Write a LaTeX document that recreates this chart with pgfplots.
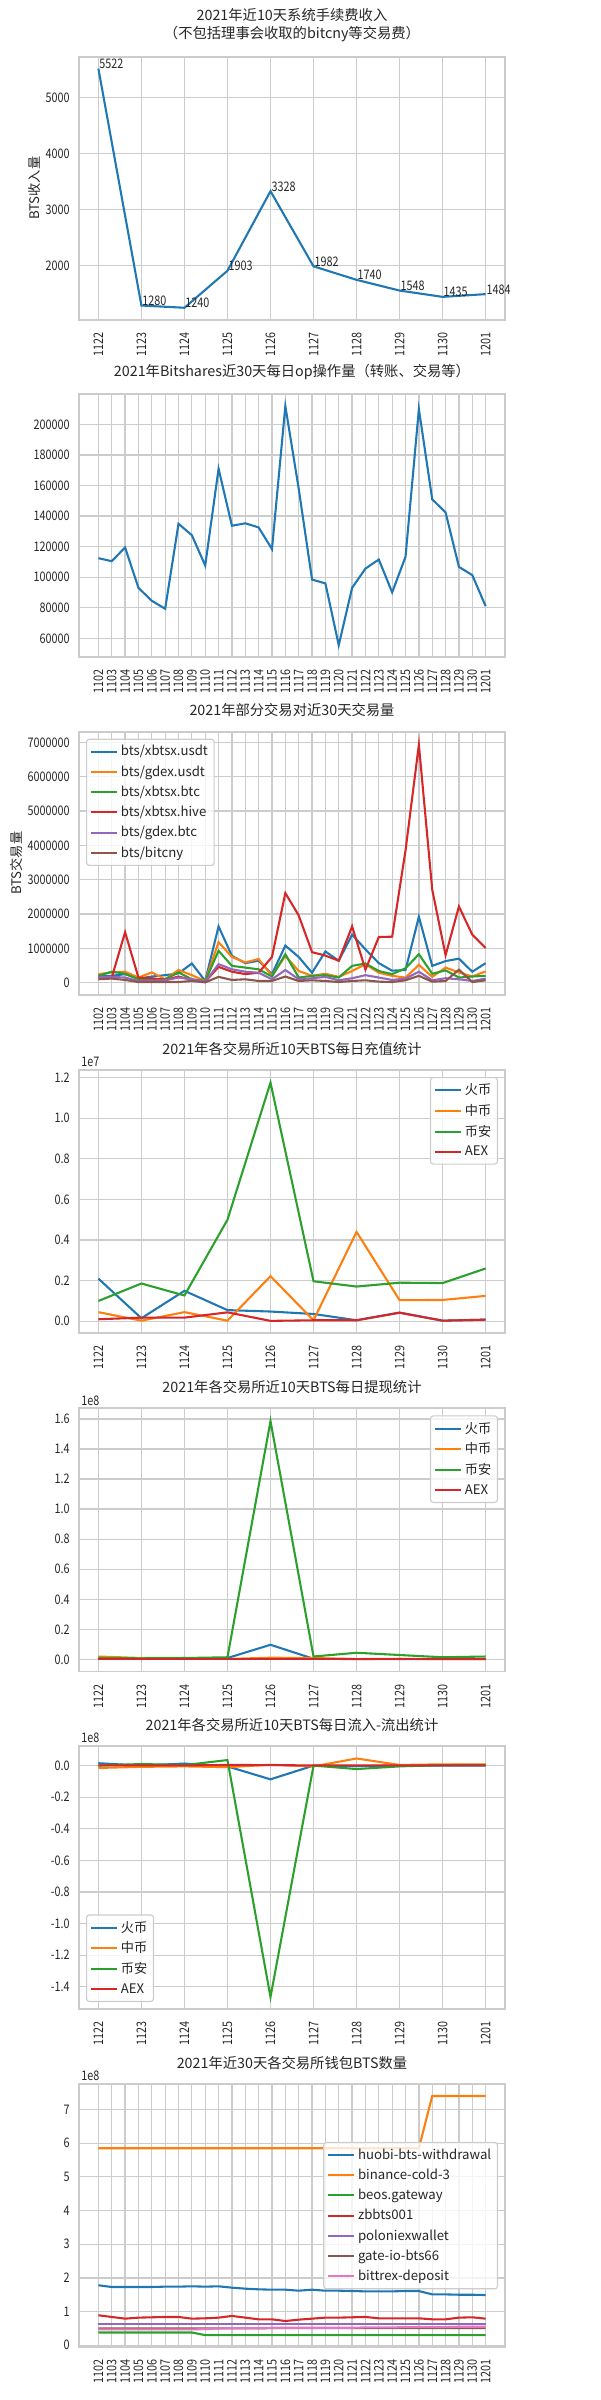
\documentclass[border=0pt]{standalone}
\usepackage{fontspec}
\setmainfont{Noto Sans CJK SC}
\newfontfamily\tickfont[FakeStretch=0.82]{Noto Sans CJK SC}
\usepackage{pgfplots}
\usepackage{pgfplotstable}
\pgfplotsset{compat=1.18}

% tab10 colours, seaborn whitegrid greys
\definecolor{c0}{HTML}{1F77B4}
\definecolor{c1}{HTML}{FF7F0E}
\definecolor{c2}{HTML}{2CA02C}
\definecolor{c3}{HTML}{D62728}
\definecolor{c4}{HTML}{9467BD}
\definecolor{c5}{HTML}{8C564B}
\definecolor{c6}{HTML}{E377C2}
\definecolor{gridc}{HTML}{CCCCCC}
\definecolor{textc}{HTML}{262626}

\newcommand\tickf{\tickfont\fontsize{9.5}{11}\selectfont}
\newcommand\legf{\fontsize{9.5}{11}\selectfont}

\pgfplotsset{
  sns/.style={
    width=306.7pt, height=189.4pt, scale only axis,
    anchor=north west,
    axis line style={gridc, line width=1.25pt},
    grid=major, major grid style={gridc, line width=0.9pt},
    major tick length=0pt,
    tick label style={font=\tickf},
    /pgf/number format/assume math mode=true,
    /pgf/number format/1000 sep={},
    /pgf/number format/fixed,
    scaled y ticks=false,
    xticklabel style={rotate=90, anchor=east, inner sep=0pt},
    xticklabel shift=9pt,
    yticklabel style={anchor=east, inner sep=0pt, /pgf/number format/fixed},
    yticklabel shift=6.5pt,
    title style={font=\fontsize{10.3}{13}\selectfont, yshift=1pt, align=center},
    label style={font=\fontsize{9.5}{11}\selectfont},
    every axis plot/.append style={line width=1.5pt, no markers},
    legend cell align=left,
    legend style={font=\legf, draw=gridc, rounded corners=2pt, fill=white,
      fill opacity=0.8, text opacity=1, line width=0.8pt, inner sep=2.5pt,
      row sep=1.5pt},
    legend image code/.code={\draw[#1, line width=1.5pt] (0pt,0pt) -- (18.7pt,0pt);},
  },
  ten/.style={xmin=-0.45, xmax=9.45, xtick={0,...,9},
    xticklabels={1122,1123,1124,1125,1126,1127,1128,1129,1130,1201}},
  thirty/.style={xmin=-1.45, xmax=30.45, xtick={0,...,29},
    xticklabels={1102,1103,1104,1105,1106,1107,1108,1109,1110,1111,1112,1113,1114,1115,1116,1117,1118,1119,1120,1121,1122,1123,1124,1125,1126,1127,1128,1129,1130,1201}},
  onedec/.style={yticklabel style={/pgf/number format/.cd, fixed, fixed zerofill, precision=1}},
}

% panel 3: volume per pair
\pgfplotstableread{
i usdt gusdt btc hive gbtc cny
0 200000 250000 200000 150000 170000 100000
1 200000 300000 320000 150000 170000 120000
2 250000 320000 260000 1470000 150000 80000
3 120000 150000 100000 150000 50000 20000
4 180000 300000 100000 130000 60000 20000
5 220000 100000 100000 80000 70000 20000
6 270000 370000 300000 180000 150000 20000
7 560000 220000 100000 80000 100000 50000
8 50000 50000 50000 30000 30000 10000
9 1640000 1180000 930000 460000 540000 170000
10 780000 750000 490000 320000 390000 80000
11 570000 590000 440000 250000 320000 100000
12 640000 690000 390000 290000 290000 50000
13 250000 200000 180000 750000 100000 50000
14 1080000 780000 830000 2610000 370000 180000
15 750000 340000 150000 1960000 100000 50000
16 290000 200000 200000 890000 130000 70000
17 910000 260000 220000 790000 170000 50000
18 640000 170000 150000 640000 70000 20000
19 1400000 340000 490000 1640000 130000 50000
20 970000 540000 560000 380000 220000 70000
21 570000 290000 340000 1330000 150000 30000
22 350000 200000 250000 1340000 80000 20000
23 370000 150000 420000 3850000 120000 70000
24 1920000 520000 830000 6930000 320000 200000
25 490000 170000 260000 2710000 70000 30000
26 630000 440000 360000 800000 130000 50000
27 700000 300000 150000 2220000 100000 380000
28 320000 180000 180000 1400000 50000 20000
29 570000 330000 200000 1010000 120000 70000
}\pairs

% panel 7: wallet balances (1e8)
\pgfplotstableread{
i huobi bin beos zb polo gate bitt
0 1.78 5.85 0.38 0.89 0.63 0.50 0.47
1 1.73 5.85 0.38 0.84 0.63 0.50 0.47
2 1.73 5.85 0.38 0.79 0.63 0.50 0.47
3 1.73 5.85 0.38 0.82 0.63 0.50 0.47
4 1.73 5.85 0.38 0.83 0.63 0.50 0.47
5 1.74 5.85 0.38 0.84 0.63 0.50 0.47
6 1.74 5.85 0.38 0.84 0.63 0.50 0.47
7 1.75 5.85 0.38 0.79 0.63 0.50 0.47
8 1.74 5.85 0.30 0.80 0.63 0.50 0.48
9 1.75 5.85 0.30 0.82 0.63 0.50 0.50
10 1.71 5.85 0.30 0.87 0.63 0.50 0.51
11 1.68 5.85 0.30 0.82 0.63 0.50 0.51
12 1.66 5.85 0.30 0.77 0.63 0.50 0.51
13 1.65 5.85 0.30 0.77 0.63 0.51 0.52
14 1.65 5.85 0.30 0.72 0.63 0.51 0.52
15 1.62 5.85 0.30 0.76 0.63 0.51 0.52
16 1.65 5.85 0.30 0.79 0.63 0.51 0.52
17 1.62 5.85 0.30 0.82 0.63 0.51 0.52
18 1.62 5.85 0.30 0.82 0.63 0.51 0.52
19 1.61 5.85 0.30 0.83 0.63 0.51 0.52
20 1.60 5.85 0.30 0.84 0.63 0.51 0.53
21 1.60 5.85 0.30 0.80 0.63 0.51 0.53
22 1.60 5.85 0.30 0.80 0.63 0.51 0.53
23 1.61 5.85 0.30 0.80 0.63 0.51 0.54
24 1.61 5.85 0.30 0.80 0.63 0.51 0.54
25 1.51 7.40 0.30 0.77 0.63 0.51 0.54
26 1.51 7.40 0.30 0.77 0.63 0.51 0.54
27 1.50 7.40 0.30 0.82 0.63 0.51 0.55
28 1.50 7.40 0.30 0.83 0.63 0.51 0.55
29 1.49 7.40 0.30 0.79 0.63 0.51 0.55
}\wallets

\begin{document}
\begin{tikzpicture}
\color{textc}
\path[use as bounding box] (0,0) rectangle (432pt,-1728pt);

% ---- 1: fee income
\begin{axis}[sns, ten, at={(56.9pt,-40.8pt)}, clip=false,
  title={2021年近10天系统手续费收入\\（不包括理事会收取的bitcny等交易费）},
  ylabel={BTS收入量},
  ymin=1026, ymax=5736, ytick={2000,3000,4000,5000}]
\addplot[c0, nodes near coords, point meta=explicit symbolic,
  every node near coord/.append style={anchor=base west, inner sep=0pt,
    font=\tickf, text=textc}]
  table[meta=label] {
x y label
0 5522 5522
1 1280 1280
2 1240 1240
3 1903 1903
4 3328 3328
5 1982 1982
6 1740 1740
7 1548 1548
8 1435 1435
9 1484 1484
};
\end{axis}

% ---- 2: daily ops
\begin{axis}[sns, thirty, at={(56.9pt,-283.7pt)},
  title={2021年Bitshares近30天每日op操作量（转账、交易等）},
  ymin=47800, ymax=219850, ytick={60000,80000,...,200000}]
\addplot[c0] coordinates {
(0,112500) (1,110500) (2,119500) (3,93100) (4,84600) (5,79400)
(6,135000) (7,127500) (8,107700) (9,171000) (10,133700) (11,135300)
(12,132600) (13,118400) (14,212000) (15,158000) (16,98500) (17,96000)
(18,55600) (19,93100) (20,105700) (21,111600) (22,90100) (23,113400)
(24,210000) (25,151000) (26,142400) (27,106800) (28,101400) (29,81100)
};
\end{axis}

% ---- 3: pair volume
\begin{axis}[sns, thirty, at={(56.9pt,-526.8pt)},
  title={2021年部分交易对近30天交易量},
  ylabel={BTS交易量},
  ymin=-350000, ymax=7310000, ytick={0,1000000,...,7000000},
  legend style={at={(0.0164,0.9734)}, anchor=north west}]
\addplot[c0] table[x=i, y=usdt] {\pairs};
\addlegendentry{bts/xbtsx.usdt}
\addplot[c1] table[x=i, y=gusdt] {\pairs};
\addlegendentry{bts/gdex.usdt}
\addplot[c2] table[x=i, y=btc] {\pairs};
\addlegendentry{bts/xbtsx.btc}
\addplot[c3] table[x=i, y=hive] {\pairs};
\addlegendentry{bts/xbtsx.hive}
\addplot[c4] table[x=i, y=gbtc] {\pairs};
\addlegendentry{bts/gdex.btc}
\addplot[c5] table[x=i, y=cny] {\pairs};
\addlegendentry{bts/bitcny}
\end{axis}

% ---- 4: deposits (1e7)
\begin{axis}[sns, ten, onedec, at={(56.9pt,-770.4pt)}, name=p4,
  title={2021年各交易所近10天BTS每日充值统计},
  ymin=-0.058, ymax=1.237, ytick={0,0.2,...,1.2},
  legend style={at={(0.9836,0.9734)}, anchor=north east}]
\addplot[c0] coordinates {(0,0.21) (1,0.015) (2,0.15) (3,0.055) (4,0.048) (5,0.036) (6,0.005) (7,0.043) (8,0.003) (9,0.008)};
\addlegendentry{火币}
\addplot[c1] coordinates {(0,0.045) (1,0.003) (2,0.045) (3,0.003) (4,0.222) (5,0.005) (6,0.44) (7,0.104) (8,0.105) (9,0.125)};
\addlegendentry{中币}
\addplot[c2] coordinates {(0,0.10) (1,0.186) (2,0.127) (3,0.50) (4,1.175) (5,0.197) (6,0.171) (7,0.19) (8,0.188) (9,0.26)};
\addlegendentry{币安}
\addplot[c3] coordinates {(0,0.01) (1,0.018) (2,0.018) (3,0.044) (4,0.002) (5,0.005) (6,0.005) (7,0.042) (8,0.003) (9,0.008)};
\addlegendentry{AEX}
\end{axis}
\node[anchor=south west, inner sep=0pt, font=\tickf] at ([xshift=1.5pt,yshift=2pt]p4.north west) {1e7};

% ---- 5: withdrawals (1e8)
\begin{axis}[sns, ten, onedec, at={(56.9pt,-1014pt)}, name=p5,
  title={2021年各交易所近10天BTS每日提现统计},
  ymin=-0.079, ymax=1.67, ytick={0,0.2,...,1.6},
  legend style={at={(0.9836,0.9734)}, anchor=north east}]
\addplot[c0] coordinates {(0,0.005) (1,0.005) (2,0.005) (3,0.01) (4,0.098) (5,0.005) (6,0.003) (7,0.003) (8,0.003) (9,0.003)};
\addlegendentry{火币}
\addplot[c1] coordinates {(0,0.02) (1,0.01) (2,0.01) (3,0.004) (4,0.012) (5,0.01) (6,0.003) (7,0.005) (8,0.003) (9,0.003)};
\addlegendentry{中币}
\addplot[c2] coordinates {(0,0.01) (1,0.008) (2,0.01) (3,0.015) (4,1.585) (5,0.02) (6,0.045) (7,0.03) (8,0.015) (9,0.02)};
\addlegendentry{币安}
\addplot[c3] coordinates {(0,0.003) (1,0.003) (2,0.003) (3,0.003) (4,0.003) (5,0.003) (6,0.003) (7,0.003) (8,0.003) (9,0.003)};
\addlegendentry{AEX}
\end{axis}
\node[anchor=south west, inner sep=0pt, font=\tickf] at ([xshift=1.5pt,yshift=2pt]p5.north west) {1e8};

% ---- 6: net flow (1e8)
\begin{axis}[sns, ten, onedec, at={(56.9pt,-1257.1pt)}, name=p6,
  title={2021年各交易所近10天BTS每日流入-流出统计},
  ymin=-1.541, ymax=0.124, ytick={-1.4,-1.2,...,0},
  legend style={at={(0.0164,0.0266)}, anchor=south west}]
\addplot[c0] coordinates {(0,0.015) (1,0.0) (2,0.013) (3,-0.005) (4,-0.087) (5,0.0) (6,-0.003) (7,0.0) (8,0.0) (9,0.0)};
\addlegendentry{火币}
\addplot[c1] coordinates {(0,-0.015) (1,-0.008) (2,-0.005) (3,-0.01) (4,0.005) (5,-0.005) (6,0.045) (7,0.004) (8,0.008) (9,0.008)};
\addlegendentry{中币}
\addplot[c2] coordinates {(0,0.0) (1,0.01) (2,0.003) (3,0.035) (4,-1.465) (5,0.0) (6,-0.022) (7,-0.005) (8,0.003) (9,0.005)};
\addlegendentry{币安}
\addplot[c3] coordinates {(0,0.001) (1,0.001) (2,0.001) (3,0.004) (4,0.003) (5,0.001) (6,0.001) (7,0.001) (8,0.001) (9,0.001)};
\addlegendentry{AEX}
\end{axis}
\node[anchor=south west, inner sep=0pt, font=\tickf] at ([xshift=1.5pt,yshift=2pt]p6.north west) {1e8};

% ---- 7: wallet balances (1e8)
\begin{axis}[sns, thirty, at={(56.9pt,-1500.5pt)}, name=p7,
  title={2021年近30天各交易所钱包BTS数量},
  ymin=-0.055, ymax=7.755, ytick={0,...,7},
  legend style={at={(0.9836,0.5)}, anchor=east}]
\addplot[c0] table[x=i, y=huobi] {\wallets};
\addlegendentry{huobi-bts-withdrawal}
\addplot[c1] table[x=i, y=bin] {\wallets};
\addlegendentry{binance-cold-3}
\addplot[c2] table[x=i, y=beos] {\wallets};
\addlegendentry{beos.gateway}
\addplot[c3] table[x=i, y=zb] {\wallets};
\addlegendentry{zbbts001}
\addplot[c4] table[x=i, y=polo] {\wallets};
\addlegendentry{poloniexwallet}
\addplot[c5] table[x=i, y=gate] {\wallets};
\addlegendentry{gate-io-bts66}
\addplot[c6] table[x=i, y=bitt] {\wallets};
\addlegendentry{bittrex-deposit}
\end{axis}
\node[anchor=south west, inner sep=0pt, font=\tickf] at ([xshift=1.5pt,yshift=2pt]p7.north west) {1e8};
\end{tikzpicture}
\end{document}
